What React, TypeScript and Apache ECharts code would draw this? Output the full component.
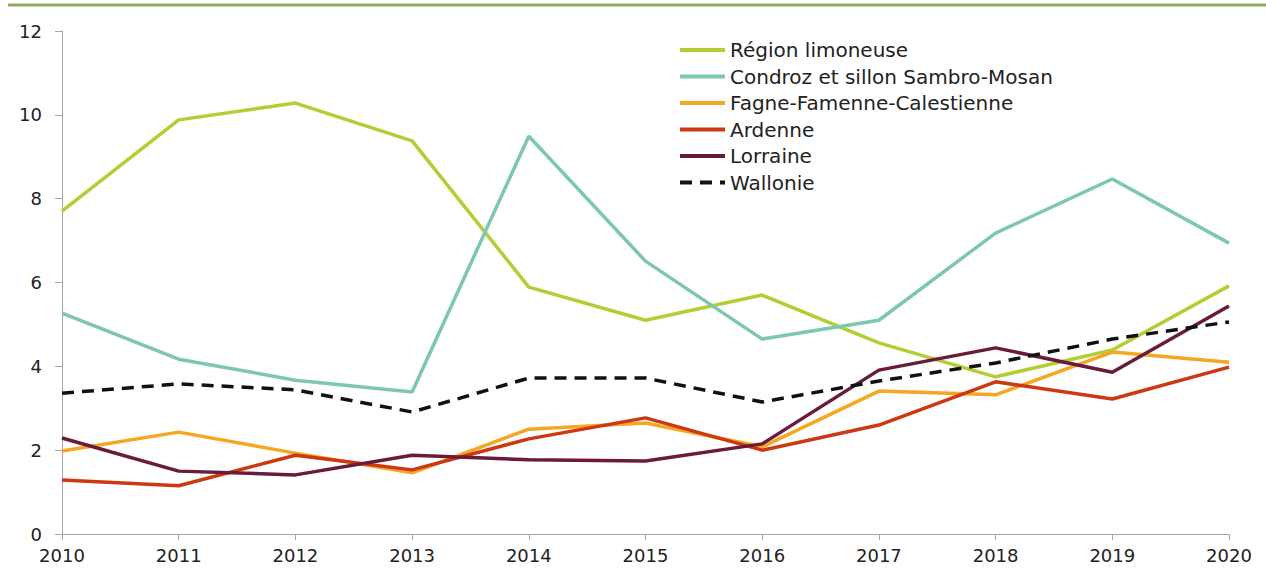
import React, { useEffect, useRef } from "react";
import * as echarts from "echarts";

const years = ["2010", "2011", "2012", "2013", "2014", "2015", "2016", "2017", "2018", "2019", "2020"];
const regionLimoneuse = [7.7, 9.88, 10.28, 9.38, 5.89, 5.1, 5.7, 4.56, 3.75, 4.39, 5.92];
const condroz = [5.27, 4.17, 3.67, 3.39, 9.49, 6.51, 4.65, 5.1, 7.18, 8.47, 6.94];
const fagne = [1.98, 2.43, 1.93, 1.46, 2.5, 2.65, 2.08, 3.41, 3.32, 4.34, 4.1];
const ardenne = [1.29, 1.15, 1.88, 1.53, 2.27, 2.77, 2.0, 2.6, 3.63, 3.22, 3.98];
const lorraine = [2.29, 1.5, 1.41, 1.88, 1.77, 1.74, 2.15, 3.91, 4.44, 3.86, 5.44];
const wallonie = [3.36, 3.58, 3.44, 2.91, 3.72, 3.72, 3.15, 3.65, 4.08, 4.65, 5.06];

const seriesNames = [
  "Région limoneuse",
  "Condroz et sillon Sambro-Mosan",
  "Fagne-Famenne-Calestienne",
  "Ardenne",
  "Lorraine",
  "Wallonie",
];
const seriesData = [regionLimoneuse, condroz, fagne, ardenne, lorraine, wallonie];
const seriesColors = ["#b4cd33", "#7cc7ae", "#f5a623", "#cc3812", "#6a1a3b", "#111111"];

const FONT = "'DejaVu Sans', sans-serif";

export default function App() {
  const ref = useRef<HTMLDivElement>(null);
  useEffect(() => {
    if (!ref.current) return;
    const chart = echarts.init(ref.current, undefined, { renderer: "svg" });
    chart.setOption({
      animation: false,
      grid: { left: 62, right: 37, top: 31, bottom: 40, containLabel: false },
      graphic: [
        {
          type: "line",
          shape: { x1: 8, y1: 5, x2: 1266, y2: 5 },
          style: { stroke: "#8fa860", lineWidth: 3 },
        },
      ],
      legend: {
        orient: "vertical",
        left: 673,
        top: 34,
        itemWidth: 45,
        itemHeight: 14,
        itemGap: 4.5,
        itemStyle: { opacity: 0 },
        lineStyle: { width: 4 },
        textStyle: { fontSize: 20, color: "#222", fontFamily: FONT, lineHeight: 22 },
        data: seriesNames,
      },
      xAxis: {
        type: "category",
        data: years,
        boundaryGap: false,
        axisLine: { lineStyle: { color: "#a6a6a6", width: 1 } },
        axisTick: { show: true, length: 6, lineStyle: { color: "#a6a6a6" } },
        axisLabel: { fontSize: 18, color: "#222", fontFamily: FONT, margin: 12 },
        splitLine: { show: false },
      },
      yAxis: {
        type: "value",
        min: 0,
        max: 12,
        interval: 2,
        axisLine: { show: true, lineStyle: { color: "#a6a6a6", width: 1 } },
        axisTick: { show: true, length: 7, lineStyle: { color: "#a6a6a6" } },
        axisLabel: { fontSize: 18, color: "#222", fontFamily: FONT, margin: 20 },
        splitLine: { show: false },
      },
      series: seriesNames.map((name, i) => ({
        name,
        type: "line",
        data: seriesData[i],
        symbol: "none",
        z: i === 5 ? 3 : 2,
        lineStyle: {
          color: seriesColors[i],
          width: 3.5,
          type: i === 5 ? [12, 8] : "solid",
        },
        itemStyle: { color: seriesColors[i] },
      })),
    });
    return () => chart.dispose();
  }, []);
  return (
    <div
      ref={ref}
      style={{ position: "absolute", left: 0, top: 0, width: 1266, height: 574, background: "#fff" }}
    />
  );
}
